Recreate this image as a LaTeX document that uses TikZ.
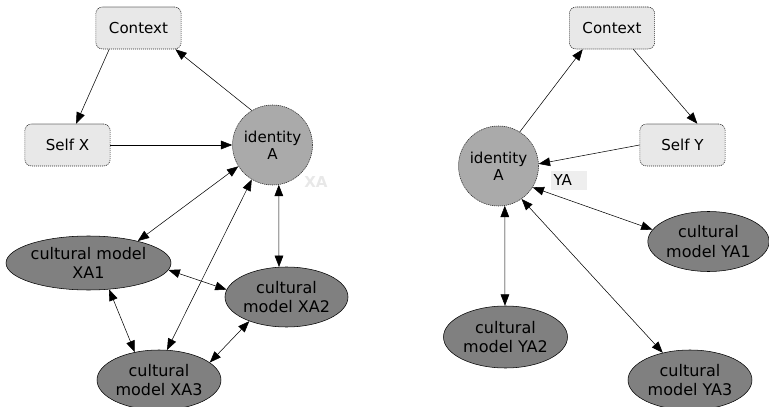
\documentclass[tikz,border=0pt]{standalone}
\usepackage{fontspec}
\setmainfont{DejaVu Sans}
\usetikzlibrary{arrows.meta,shapes.geometric}
\definecolor{boxgray}{RGB}{232,232,232}
\definecolor{idgray}{RGB}{170,170,170}
\definecolor{modelgray}{RGB}{128,128,128}
\definecolor{labelgray}{RGB}{238,238,238}

\begin{document}
\begin{tikzpicture}[x=0.75pt, y=-0.75pt,
  ctxbox/.style={draw=black!85, dash pattern=on 0.9pt off 0.6pt, rounded corners=5pt, fill=boxgray,
    minimum width=64pt, minimum height=31.5pt, font=\fontsize{11.3}{13}\selectfont},
  ident/.style={circle, draw=black!85, dash pattern=on 0.9pt off 0.6pt, fill=idgray, inner sep=0pt,
    minimum size=60pt, align=center, font=\fontsize{11.3}{12.5}\selectfont},
  model/.style={ellipse, draw, thin, fill=modelgray, inner sep=0pt, align=center,
    minimum width=93pt, minimum height=45pt, font=\fontsize{12}{14.5}\selectfont},
  arrow/.style={-{Triangle[length=8.5pt,width=6.5pt]}, thin},
  both/.style={{Triangle[length=8.5pt,width=6.5pt]}-{Triangle[length=8.5pt,width=6.5pt]}, thin}
]
\useasboundingbox (0,0) rectangle (769,407);

% left part
\node[ctxbox] (ctxX) at (138.5,28) {Context};
\node[ctxbox] (selfX) at (67.5,145) {Self X};
\node[ident] (idX) at (272.5,145) {identity\\A};
\node[font=\fontsize{11.3}{13}\selectfont\bfseries, text=black!9] (labX) at (316,182) {XA};
\node[model, minimum width=123.75pt, minimum height=40.5pt] (mXA1) at (88.5,263) {cultural model\\XA1};
\node[model, minimum width=92.25pt] (mXA2) at (286.5,297) {cultural\\model XA2};
\node[model] (mXA3) at (159,380) {cultural\\model XA3};

\draw[arrow] (ctxX.-144) -- (selfX.68);
\draw[arrow] (idX.121) -- (ctxX.-30);
\draw[arrow] (selfX) -- (idX);
\draw[both] (idX.-148) -- (mXA1.24);
\draw[both] (idX.-121) -- (mXA3.75);
\draw[both] (idX.-81) -- (mXA2.104);
\draw[both] (mXA1.-5) -- (mXA2.173);
\draw[both] (mXA1.-52) -- (mXA3.131);
\draw[both] (mXA2.-147) -- (mXA3.19);

% right part
\node[ctxbox] (ctxY) at (612,28) {Context};
\node[ctxbox] (selfY) at (682.5,145) {Self Y};
\node[ident] (idY) at (498.5,166) {identity\\A};
\node[fill=labelgray, inner sep=2pt, text width=23pt, minimum height=14.25pt, align=left,
  font=\fontsize{11.3}{13}\selectfont] (labY) at (569,180.5) {YA};
\node[model, minimum width=91pt] (mYA1) at (708.5,241.5) {cultural\\model YA1};
\node[model, minimum height=46.5pt] (mYA2) at (505.5,337) {cultural\\model YA2};
\node[model] (mYA3) at (690,380) {cultural\\model YA3};

\draw[arrow] (idY.58) -- (ctxY.-144);
\draw[arrow] (ctxY.-45) -- (selfY.55);
\draw[arrow] (selfY.west) -- (idY.3);
\draw[both] (idY.-32) -- (mYA1.168);
\draw[both] (idY.-81) -- (mYA2.91);
\draw[both] (idY.-55) -- (mYA3.135);
\end{tikzpicture}
\end{document}
